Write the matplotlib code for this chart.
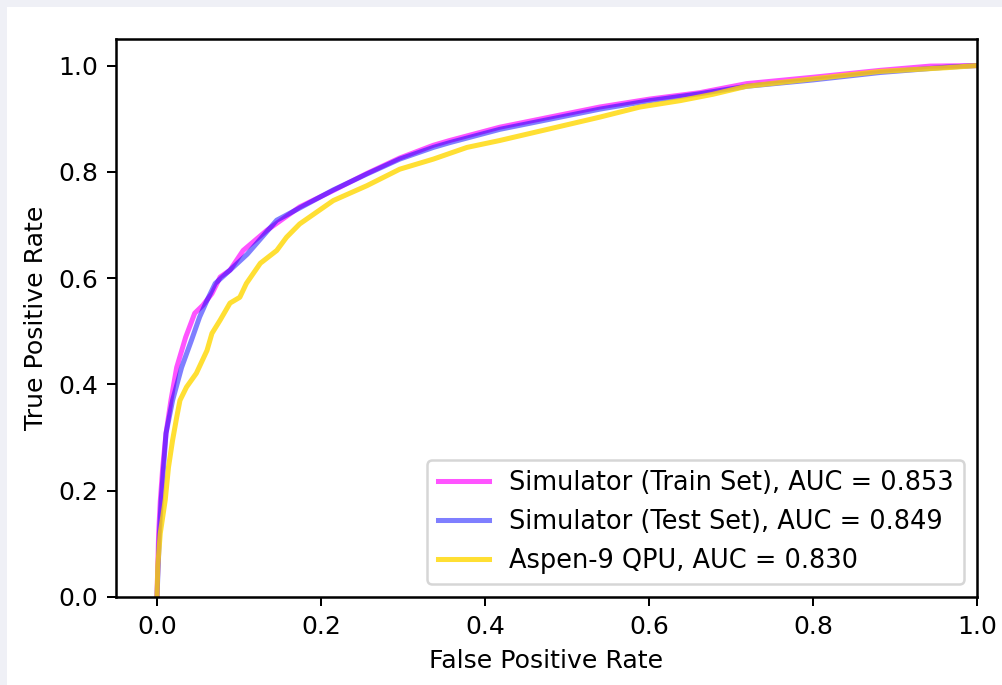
import numpy as np
import matplotlib
matplotlib.use('Agg')
import matplotlib.pyplot as plt
from matplotlib.patches import Rectangle

# ROC points (fpr, tpr)
fpr_train = [0.0, 0.002, 0.004, 0.007, 0.011, 0.017, 0.024, 0.035, 0.046, 0.056, 0.067, 0.077,
             0.089, 0.105, 0.134, 0.174, 0.215, 0.256, 0.296, 0.337, 0.357, 0.418, 0.479, 0.540,
             0.601, 0.662, 0.719, 0.800, 0.882, 0.943, 1.0]
tpr_train = [0.0, 0.120, 0.180, 0.244, 0.308, 0.370, 0.432, 0.489, 0.534, 0.549, 0.571, 0.602,
             0.615, 0.652, 0.690, 0.734, 0.765, 0.797, 0.826, 0.850, 0.859, 0.884, 0.903, 0.922,
             0.937, 0.949, 0.966, 0.978, 0.991, 0.999, 1.0]

fpr_test = [0.0, 0.003, 0.005, 0.008, 0.011, 0.019, 0.030, 0.042, 0.052, 0.061, 0.071, 0.089,
            0.110, 0.146, 0.174, 0.215, 0.256, 0.296, 0.337, 0.357, 0.418, 0.479, 0.540, 0.601,
            0.662, 0.719, 0.800, 0.882, 0.963, 1.0]
tpr_test = [0.0, 0.120, 0.180, 0.244, 0.308, 0.370, 0.432, 0.483, 0.527, 0.558, 0.590, 0.615,
            0.645, 0.709, 0.732, 0.766, 0.796, 0.824, 0.846, 0.855, 0.880, 0.899, 0.918, 0.934,
            0.947, 0.961, 0.973, 0.987, 0.997, 1.0]

fpr_qpu = [0.0, 0.001, 0.004, 0.010, 0.014, 0.019, 0.024, 0.028, 0.036, 0.048, 0.061, 0.067,
           0.077, 0.089, 0.101, 0.109, 0.126, 0.146, 0.158, 0.174, 0.215, 0.256, 0.296, 0.337,
           0.378, 0.418, 0.479, 0.540, 0.589, 0.638, 0.678, 0.719, 0.800, 0.882, 0.963, 1.0]
tpr_qpu = [0.0, 0.060, 0.120, 0.182, 0.244, 0.295, 0.338, 0.370, 0.395, 0.421, 0.464, 0.496,
           0.521, 0.553, 0.564, 0.590, 0.628, 0.652, 0.677, 0.702, 0.746, 0.774, 0.805, 0.824,
           0.846, 0.859, 0.881, 0.903, 0.922, 0.934, 0.946, 0.961, 0.975, 0.989, 0.996, 1.0]

labels = ['Simulator (Train Set), AUC = 0.853',
          'Simulator (Test Set), AUC = 0.849',
          'Aspen-9 QPU, AUC = 0.830']

dpi = 181
fig = plt.figure(figsize=(1002/dpi, 685/dpi), dpi=dpi, facecolor='#eff0f6')
# white page area (the reference has a thin grey margin top/left)
fig.patches.append(Rectangle((7/1002, 0), 1 - 7/1002, 1 - 7/685,
                             transform=fig.transFigure, facecolor='white',
                             edgecolor='none', zorder=-1))
ax = fig.add_axes([116/1002, 1 - 597/685, (977 - 116)/1002, (597 - 39)/685])

ax.plot(fpr_train, tpr_train, color='magenta', alpha=0.67, lw=2, label=labels[0])
ax.plot(fpr_test, tpr_test, color='blue', alpha=0.5, lw=2, label=labels[1])
ax.plot(fpr_qpu, tpr_qpu, color='gold', alpha=0.8, lw=2, label=labels[2])

ax.set_xlim([-0.05, 1.0])
ax.set_ylim([0.0, 1.05])
ax.set_xlabel('False Positive Rate')
ax.set_ylabel('True Positive Rate')
for s in ax.spines.values():
    s.set_linewidth(1.0)
ax.legend(loc='lower right', fontsize=10.2)

plt.savefig('out.png', dpi=dpi, facecolor=fig.get_facecolor())
